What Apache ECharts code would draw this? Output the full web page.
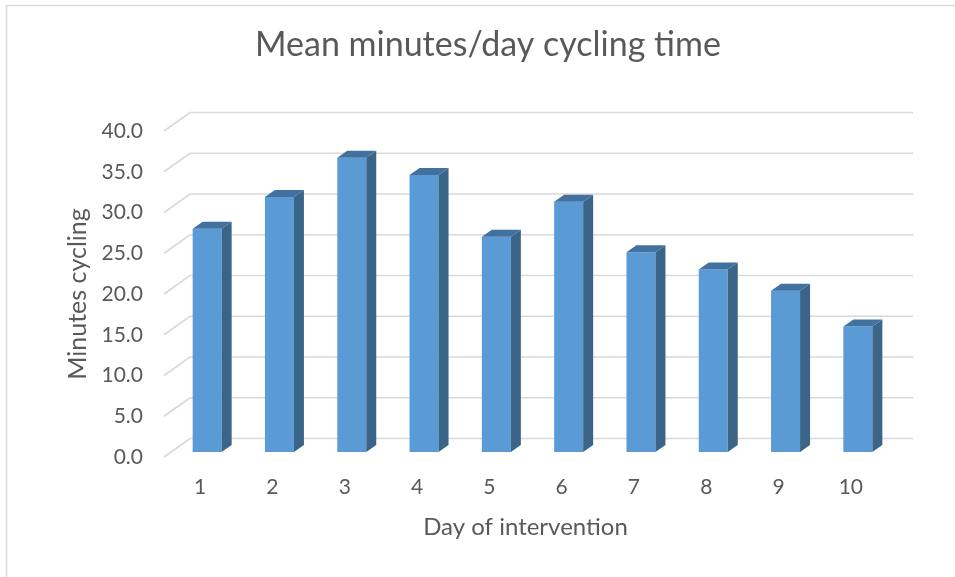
<!DOCTYPE html>
<html>
<head>
<meta charset="utf-8">
<script src="https://cdn.jsdelivr.net/npm/echarts@6/dist/echarts.min.js"></script>
<style>
  html, body { margin: 0; padding: 0; background: #fff; }
  #container { width: 955px; height: 577px; }
</style>
</head>
<body>
<div id="container"></div>
<script>
'use strict';
var days = ['1', '2', '3', '4', '5', '6', '7', '8', '9', '10'];
var minutes = [27.4, 31.3, 36.1, 34.0, 26.4, 30.7, 24.5, 22.4, 19.8, 15.4];
var gridValues = [0, 5, 10, 15, 20, 25, 30, 35, 40];

// oblique "3D" offsets (px): back wall, bar front plane, bar depth
var wallDx = 26, wallDy = -18.5;
var barDx = 7, barDy = -5;
var depthDx = 10, depthDy = -7;
var halfBar = 14.5;

var dom = document.getElementById('container');
var myChart = echarts.init(dom);
var textColor = '#595959';
var font = 'Lato, "Open Sans", sans-serif';

function renderGrid(params, api) {
    var cs = params.coordSys;
    var y = api.coord([0, api.value(1)])[1];
    return {
        type: 'polyline',
        shape: {
            points: [[cs.x, y], [cs.x + wallDx, y + wallDy], [cs.x + cs.width + wallDx, y + wallDy]]
        },
        style: { stroke: '#D9D9D9', lineWidth: 1.6, fill: null },
        silent: true
    };
}

function renderBar(params, api) {
    var top = api.coord([api.value(0), api.value(1)]);
    var bot = api.coord([api.value(0), 0]);
    var x = top[0] + barDx - halfBar;
    var y = top[1] + barDy;
    var yb = bot[1] + barDy;
    var w = halfBar * 2;
    return {
        type: 'group',
        children: [
            {
                type: 'rect',
                shape: { x: x, y: y, width: w, height: yb - y },
                style: { fill: '#5B9BD5' }
            },
            {
                type: 'polygon',
                shape: { points: [[x + w, y], [x + w + depthDx, y + depthDy], [x + w + depthDx, yb + depthDy], [x + w, yb]] },
                style: { fill: '#3A6589' }
            },
            {
                type: 'polygon',
                shape: { points: [[x, y], [x + depthDx, y + depthDy], [x + w + depthDx, y + depthDy], [x + w, y]] },
                style: { fill: '#41719F' }
            }
        ]
    };
}

var option = {
    backgroundColor: '#fff',
    textStyle: { fontFamily: font },
    title: {
        text: 'Mean minutes/day cycling time',
        left: 250,
        top: 23,
        textStyle: { fontSize: 34, fontWeight: 'normal', color: textColor, fontFamily: font }
    },
    graphic: [{
        type: 'rect',
        shape: { x: 6.5, y: 5.5, width: 1000, height: 1000 },
        style: { fill: null, stroke: '#D9D9D9', lineWidth: 1.5 },
        silent: true
    }],
    grid: { left: 164, right: 68, top: 131, bottom: 120 },
    xAxis: {
        type: 'category',
        data: days,
        name: 'Day of intervention',
        nameLocation: 'middle',
        nameGap: 58,
        nameTextStyle: { fontSize: 24, color: textColor },
        axisLine: { show: false },
        axisTick: { show: false },
        axisLabel: { fontSize: 21, color: textColor, margin: 20 }
    },
    yAxis: {
        type: 'value',
        min: 0,
        max: 40,
        interval: 5,
        name: 'Minutes cycling',
        nameLocation: 'middle',
        nameGap: 74,
        nameTextStyle: { fontSize: 25, color: textColor },
        splitLine: { show: false },
        axisLine: { show: false },
        axisTick: { show: false },
        axisLabel: {
            fontSize: 21, color: textColor, margin: 21,
            formatter: function (v) { return v.toFixed(1); }
        }
    },
    series: [
        {
            type: 'custom',
            renderItem: renderGrid,
            data: gridValues.map(function (v) { return [0, v]; }),
            z: 1,
            silent: true
        },
        {
            type: 'custom',
            renderItem: renderBar,
            data: minutes.map(function (v, i) { return [i, v]; }),
            z: 2
        }
    ]
};
myChart.setOption(option);
</script>
</body>
</html>
